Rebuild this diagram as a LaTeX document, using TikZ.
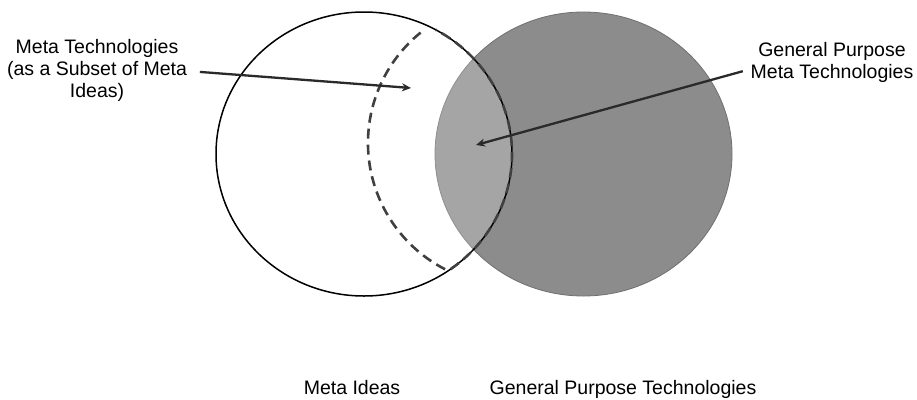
\documentclass[tikz,border=0pt]{standalone}
\usepackage{fontspec}
\newfontfamily\vennfontA{Liberation Sans}
\usepackage{tikz}
\usetikzlibrary{arrows.meta}

\begin{document}
\begin{tikzpicture}[x=1pt,y=-1pt,line cap=rect]
				\definecolor{custcol_0_0_0}{RGB}{0, 0, 0}
				\definecolor{custcol_2a_2a_2a}{RGB}{42, 42, 42}
				\definecolor{custcol_40_40_40}{RGB}{64, 64, 64}
				\definecolor{custcol_70_70_70}{RGB}{112, 112, 112}
				\definecolor{custcol_8c_8c_8c}{RGB}{140, 140, 140}
				\tikzset{venntext/.style={inner sep=0, outer sep=0, custcol_0_0_0, align=center, font=\vennfontA\fontsize{19.5pt}{22pt}\selectfont},
					pointer/.style={line width=2.3pt, custcol_2a_2a_2a, -{Stealth[length=9pt,width=8pt]}},
					subsetline/.style={line width=2.6pt, custcol_40_40_40, line cap=butt, dash pattern=on 10pt off 6pt}}
				\useasboundingbox (0.0,0.0) rectangle (917.0,399.0);
				\coordinate (ideas) at (364.0,154.0);
				\coordinate (gpt) at (583.5,154.0);
				\coordinate (subsettop) at (420.6,32.6);
				\coordinate (subsetbottom) at (448.9,270.3);
				\coordinate (metatechtip) at (411.0,88.0);
				\coordinate (gpmttip) at (476.0,145.0);
				% circles
				\fill [custcol_8c_8c_8c ]  (gpt) ellipse (148.5 and 142.0 );
				\draw [line width=0.8pt, custcol_70_70_70 ]  (gpt) ellipse (148.5 and 142.0 );
				\fill [white, opacity=0.22 ]  (ideas) ellipse (148.0 and 142.0 );
				\draw [line width=1.5pt, custcol_0_0_0 ]  (ideas) ellipse (148.0 and 142.0 );
				\draw [subsetline ]  (subsettop) arc [start angle=231, end angle=117, radius=142] -- (subsetbottom) arc [start angle=55, end angle=-61, x radius=148, y radius=142];
				% labels
				\node [venntext] (metatech) at (97.0,70.0) {Meta Technologies\\(as a Subset of Meta\\Ideas)};
				\node [venntext] (gpmt) at (832.0,62.5) {General Purpose\\Meta Technologies};
				\node [venntext, anchor=base] (metaideas) at (352.0,394.5) {Meta Ideas};
				\node [venntext, anchor=base] (gptlabel) at (623.0,394.5) {General Purpose Technologies};
				\draw [pointer ]  ([xshift=14pt,yshift=-2pt]metatech.east) -- (metatechtip);
				\draw [pointer ]  ([xshift=-9pt,yshift=-9pt]gpmt.west) -- (gpmttip);
			\end{tikzpicture}
\end{document}
